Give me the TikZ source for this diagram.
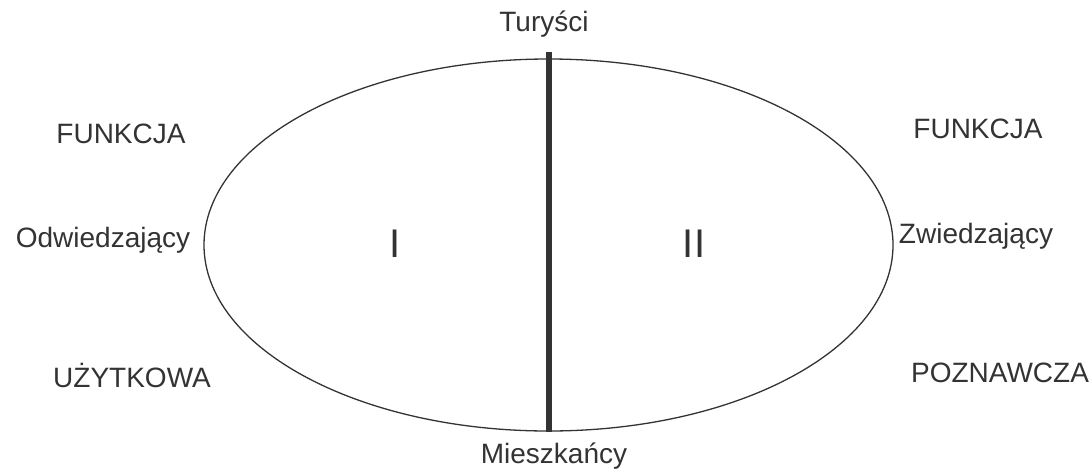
\documentclass[tikz,border=0pt]{standalone}
\usepackage{fontspec}
\setmainfont{Liberation Sans}
\usetikzlibrary{shapes.geometric}
\definecolor{ink}{HTML}{333333}
\tikzset{
  lbl/.style={text=ink, inner sep=0pt, anchor=base, font=\fontsize{28}{30}\selectfont},
  roman/.style={text=ink, inner sep=0pt, anchor=base, font=\fontsize{40}{42}\selectfont},
}
\begin{document}
\begin{tikzpicture}[x=1pt,y=-1pt]
\useasboundingbox (0,0) rectangle (1091,469);
\node[ellipse, draw=ink, line width=1.3pt, minimum width=689pt, minimum height=372pt, inner sep=0pt] (ell) at (548.5,245) {};
\coordinate (top) at (549,52);
\coordinate (bot) at (549,432);
\draw[ink, line width=5.5pt] (top) -- (bot);
\node[lbl] (tur) at (544,31) {Turyści};
\node[lbl] (mie) at (554,463) {Mieszkańcy};
\node[lbl] (fl) at (121,143) {FUNKCJA};
\node[lbl] (odw) at (103,247) {Odwiedzający};
\node[lbl] (uzy) at (132,387) {UŻYTKOWA};
\node[lbl] (fr) at (978,138) {FUNKCJA};
\node[lbl] (zwi) at (976,243) {Zwiedzający};
\node[lbl] (poz) at (1000,382) {POZNAWCZA};
\node[roman] (one) at (395,257) {I};
\node[roman] (two) at (694,257) {II};
\end{tikzpicture}
\end{document}
